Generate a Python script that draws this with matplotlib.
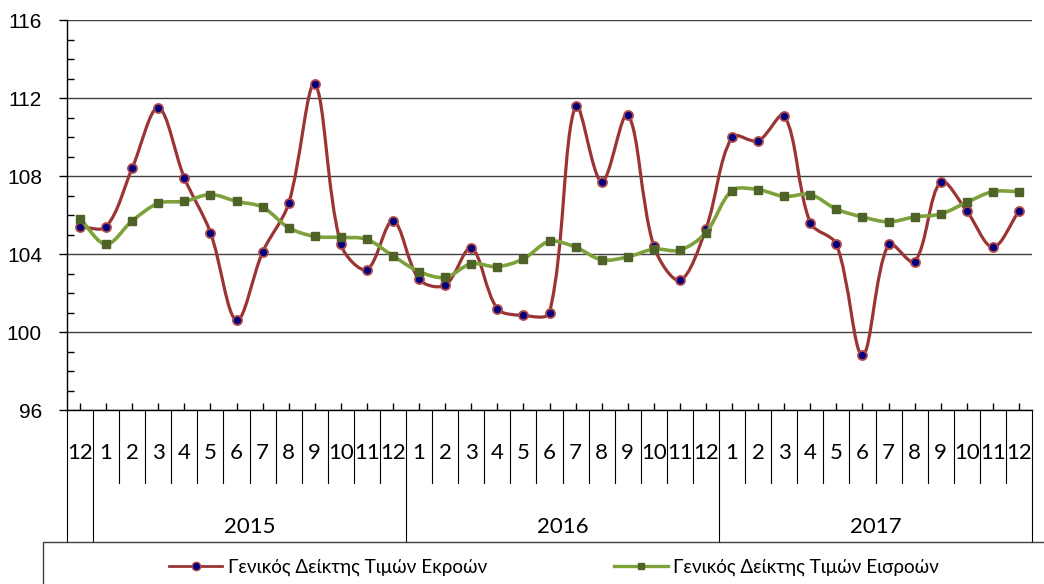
import numpy as np
import matplotlib.pyplot as plt
from matplotlib.path import Path
from matplotlib.patches import PathPatch, Rectangle
from matplotlib.lines import Line2D

MONTHS = ["12"] + [str(m) for m in range(1, 13)] * 3
YEARS = ["2015", "2016", "2017"]

OUTPUT_IDX = [105.4, 105.4, 108.4, 111.5, 107.9, 105.1, 100.6, 104.1, 106.6, 112.7,
              104.5, 103.2, 105.7, 102.7, 102.4, 104.3, 101.2, 100.85, 101.0, 111.6,
              107.7, 111.15, 104.4, 102.65, 105.3, 110.0, 109.8, 111.1, 105.6, 104.5,
              98.8, 104.5, 103.6, 107.7, 106.2, 104.35, 106.2]
INPUT_IDX = [105.8, 104.5, 105.7, 106.6, 106.7, 107.05, 106.7, 106.4, 105.35, 104.9,
             104.85, 104.75, 103.9, 103.1, 102.8, 103.5, 103.35, 103.75, 104.65, 104.35,
             103.7, 103.85, 104.25, 104.2, 105.1, 107.25, 107.3, 106.95, 107.05, 106.3,
             105.9, 105.65, 105.9, 106.05, 106.65, 107.2, 107.2]

LABELS = ["Γενικός Δείκτης Τιμών Εκροών", "Γενικός Δείκτης Τιμών Εισροών"]
RED = "#9b3535"
GREEN = "#7da23c"
TEXT_FONT = ["Lato", "Open Sans", "DejaVu Sans"]

W, H = 1044, 584
AX_LEFT, AX_RIGHT, AX_TOP, AX_BOTTOM = 67, 1032, 20, 410


def smooth_path(x, y, sx, sy):
    # Excel-like smoothed line: Bezier segments, handle lengths weighted by
    # on-screen segment lengths (sx, sy = pixels per data unit)
    pts = np.column_stack([x, y]).astype(float)
    scale = np.array([sx, sy])
    n = len(pts)

    def dist(a, b):
        return np.hypot(*((pts[b] - pts[a]) * scale))

    verts = [pts[0]]
    codes = [Path.MOVETO]
    for i in range(n - 1):
        i0, i3 = max(i - 1, 0), min(i + 2, n - 1)
        d01, d12, d23 = dist(i0, i), dist(i, i + 1), dist(i + 1, i3)
        f1 = d12 / (d01 + d12) if d01 + d12 > 0 else 0.5
        f2 = d12 / (d12 + d23) if d12 + d23 > 0 else 0.5
        c1 = pts[i] + (pts[i + 1] - pts[i0]) * f1 / 3
        c2 = pts[i + 1] - (pts[i3] - pts[i]) * f2 / 3
        verts += [c1, c2, pts[i + 1]]
        codes += [Path.CURVE4] * 3
    return Path(verts, codes)


fig = plt.figure(figsize=(10.44, 5.84), dpi=100)
ax = fig.add_axes([AX_LEFT / W, 1 - AX_BOTTOM / H, (AX_RIGHT - AX_LEFT) / W, (AX_BOTTOM - AX_TOP) / H])

x = np.arange(len(MONTHS))
sx = (AX_RIGHT - AX_LEFT) / len(MONTHS)
sy = (AX_BOTTOM - AX_TOP) / 20

ax.add_patch(PathPatch(smooth_path(x, OUTPUT_IDX, sx, sy), facecolor="none", edgecolor=RED, lw=2.3, zorder=3))
ax.plot(x, OUTPUT_IDX, linestyle="none", marker="o", ms=6.5, mfc="#000080", mec="#b04848", mew=1.3, zorder=4)

ax.add_patch(PathPatch(smooth_path(x, INPUT_IDX, sx, sy), facecolor="none", edgecolor=GREEN, lw=2.6, zorder=5))
ax.plot(x, INPUT_IDX, linestyle="none", marker="s", ms=5.5, mfc="#4f6228", mec="#4f6228", zorder=6)

ax.set_xlim(-0.5, len(MONTHS) - 0.5)
ax.set_ylim(96, 116)
ax.set_yticks(np.arange(96, 117, 4))
ax.set_yticks(np.arange(96, 117, 1), minor=True)
ax.yaxis.grid(True, color="#404040", lw=1)
ax.set_axisbelow(True)
ax.tick_params(axis="y", which="major", direction="out", length=6, width=1, pad=12,
               labelsize=15, labelfontfamily="Liberation Sans")
ax.tick_params(axis="y", which="minor", direction="in", length=5, width=1)

ax.set_xticks(x)
ax.set_xticklabels([])
ax.tick_params(axis="x", which="major", direction="in", length=5, width=1)

for side in ["top", "right"]:
    ax.spines[side].set_visible(False)
for side in ["left", "bottom"]:
    ax.spines[side].set_color("black")
    ax.spines[side].set_linewidth(1)

# category table below the axis
tr = ax.get_xaxis_transform()
ah = AX_BOTTOM - AX_TOP
month_bottom = -(483 - AX_BOTTOM) / ah
year_bottom = -(542 - AX_BOTTOM) / ah
year_starts = [0.5, 12.5, 24.5, 36.5]
for i in range(len(MONTHS) + 1):
    b = i - 0.5
    low = year_bottom if (b in year_starts or i == 0) else month_bottom
    ax.plot([b, b], [0, low], transform=tr, color="black", lw=0.8, clip_on=False)
for i, m in enumerate(MONTHS):
    ax.text(i, -(453 - AX_BOTTOM) / ah, m, transform=tr, ha="center", va="center",
            fontsize=16, family=TEXT_FONT)
for k, yr in enumerate(YEARS):
    ax.text((year_starts[k] + year_starts[k + 1]) / 2, -(527 - AX_BOTTOM) / ah, yr, transform=tr,
            ha="center", va="center", fontsize=16, family=TEXT_FONT)

# legend box (runs off the figure edge)
fig.patches.append(Rectangle((43 / W, -0.1), 1.0, 0.1 + 42 / H, transform=fig.transFigure,
                             fill=False, edgecolor="#404040", lw=1))
handles = [
    Line2D([], [], color=RED, lw=2, marker="o", ms=6, mfc="#000080", mec="#b04848"),
    Line2D([], [], color=GREEN, lw=2.4, marker="s", ms=5, mfc="#4f6228", mec="#4f6228"),
]
fig.legend(handles, LABELS, loc="center", bbox_to_anchor=(554 / W, 1 - 567 / H), ncol=2,
           frameon=False, handlelength=2.85, columnspacing=6.7, handletextpad=0.3,
           prop={"family": TEXT_FONT, "size": 13.6})

fig.savefig("out.png", dpi=100)
